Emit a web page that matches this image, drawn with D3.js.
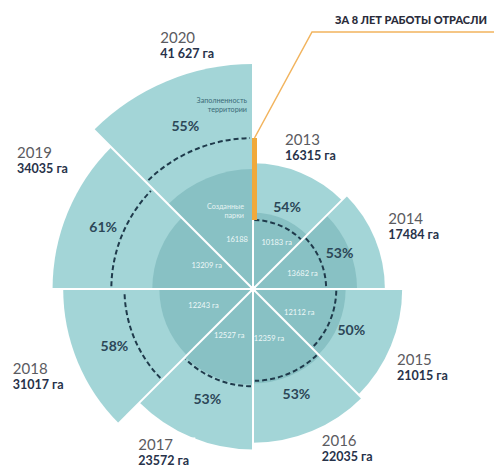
<!DOCTYPE html>
<html>
<head>
<meta charset="utf-8">
<script src="https://cdn.jsdelivr.net/npm/d3@7"></script>
<style>
  body { margin: 0; background: #fff; }
  svg { display: block; font-family: Lato, "Open Sans", sans-serif; }
</style>
</head>
<body>
<div id="chart"></div>
<script>
const years = ["2013", "2014", "2015", "2016", "2017", "2018", "2019", "2020"];
const totalArea = [16315, 17484, 21015, 22035, 23572, 31017, 34035, 41627];
const totalLabels = ["16315 га", "17484 га", "21015 га", "22035 га", "23572 га", "31017 га", "34035 га", "41 627 га"];
const fillPct = [54, 53, 50, 53, 53, 58, 61, 55];
const parksArea = [10183, 13682, 12112, 12359, 12527, 12243, 13209, 16188];
const parksLabels = ["10183 га", "13682 га", "12112 га", "12359 га", "12527 га", "12243 га", "13209 га", "16188"];

// where the year labels sit: angle (deg, clockwise from top) and gap past the outer arc
const labelAngle = [12.8, 65.3, 118.7, 156.7, 214.9, 249.9, 298.5, 339.1];
const labelGap = [19, 17, 15, 20, 40, 66, 68, 35];

const width = 494, height = 468;
const cx = 253, cy = 289;
const step = Math.PI / 4;

const svg = d3.select("#chart")
    .append("svg")
    .attr("width", width)
    .attr("height", height);

const g = svg.append("g")
    .attr("transform", `translate(${cx},${cy})`);

// radius scales (area-like)
const r = d3.scaleRadial().domain([4850, 41627]).range([0, 225]);
const rFill = d3.scaleRadial().domain([5090, 22895]).range([0, 151]);
const rParks = d3.scaleRadial().domain([6100, 16188]).range([0, 120]);

const data = years.map((y, i) => ({
  year: y,
  total: totalArea[i],
  totalLabel: totalLabels[i],
  pct: fillPct[i],
  filled: totalArea[i] * fillPct[i] / 100,
  parks: parksArea[i],
  parksLabel: parksLabels[i],
  a0: i * step,
  a1: (i + 1) * step
}));

const polar = (rad, ang) => [rad * Math.sin(ang), -rad * Math.cos(ang)];

// outer sectors
const outerArc = d3.arc()
    .innerRadius(0)
    .outerRadius(d => r(d.total))
    .startAngle(d => d.a0)
    .endAngle(d => d.a1);

g.selectAll(".outer")
  .data(data)
  .join("path")
    .attr("class", "outer")
    .attr("fill", "#a3d5d7")
    .attr("d", outerArc);

// parks sectors
const parksArc = d3.arc()
    .innerRadius(0)
    .outerRadius(d => rParks(d.parks))
    .startAngle(d => d.a0)
    .endAngle(d => d.a1);

g.selectAll(".parks")
  .data(data)
  .join("path")
    .attr("class", "parks")
    .attr("fill", "#88c1c4")
    .attr("d", parksArc);

// dashed occupancy arcs
g.selectAll(".dash")
  .data(data)
  .join("path")
    .attr("class", "dash")
    .attr("fill", "none")
    .attr("stroke", "#1f3a4b")
    .attr("stroke-width", 2)
    .attr("stroke-dasharray", "5,3")
    .attr("d", d => {
      const p = d3.path();
      const rr = rFill(d.filled);
      const s = polar(rr, d.a0 + 0.02);
      p.moveTo(s[0], s[1]);
      p.arc(0, 0, rr, d.a0 + 0.02 - Math.PI / 2, d.a1 - 0.02 - Math.PI / 2);
      return p.toString();
    });

// white separators
g.selectAll(".sep")
  .data(data)
  .join("line")
    .attr("class", "sep")
    .attr("stroke", "#fff")
    .attr("stroke-width", 2)
    .attr("x1", 0).attr("y1", 0)
    .attr("x2", (d, i) => polar(Math.max(r(d.total), r(data[(i + 7) % 8].total)) + 2, d.a0)[0])
    .attr("y2", (d, i) => polar(Math.max(r(d.total), r(data[(i + 7) % 8].total)) + 2, d.a0)[1]);

g.append("circle").attr("r", 3).attr("fill", "#fff");

// orange bar: from 2013 occupancy to 2020 occupancy
const barTop = -rFill(data[7].filled);
const barBottom = -rFill(data[0].filled);
g.append("rect")
    .attr("x", -1)
    .attr("y", barTop)
    .attr("width", 5)
    .attr("height", barBottom - barTop)
    .attr("fill", "#f0a93a");

// leader line to the title
const elbowY = 32;
svg.append("path")
    .attr("fill", "none")
    .attr("stroke", "#f2b45e")
    .attr("stroke-width", 1.5)
    .attr("d", `M${cx + 1.5},${cy + barTop} L${cx + 59},${elbowY} L${width},${elbowY}`);

svg.append("text")
    .attr("x", 335)
    .attr("y", 24)
    .attr("font-size", 11.5)
    .attr("font-weight", 900)
    .attr("fill", "#2a2c3a")
    .attr("textLength", 152)
    .attr("lengthAdjust", "spacingAndGlyphs")
    .text("ЗА 8 ЛЕТ РАБОТЫ ОТРАСЛИ");

// percent labels
g.selectAll(".pct")
  .data(data)
  .join("text")
    .attr("class", "pct")
    .attr("text-anchor", "middle")
    .attr("dy", "0.36em")
    .attr("font-size", 14)
    .attr("font-weight", 700)
    .attr("fill", "#2c4757")
    .attr("transform", d => {
      const rf = rFill(d.filled), ro = r(d.total);
      const p = polar(rf + 0.35 * (ro - rf), (d.a0 + d.a1) / 2);
      return `translate(${p[0]},${p[1]})`;
    })
    .text(d => d.pct + "%");

// parks labels
g.selectAll(".plab")
  .data(data)
  .join("text")
    .attr("class", "plab")
    .attr("text-anchor", "middle")
    .attr("dy", "0.35em")
    .attr("font-size", 7.5)
    .attr("fill", "#eef8f8")
    .attr("transform", d => {
      const p = polar(52, (d.a0 + d.a1) / 2 + 0.08);
      return `translate(${p[0]},${p[1]})`;
    })
    .text(d => d.parksLabel);

// annotations in the 2020 sector
const ann = g.append("g").attr("text-anchor", "end").attr("font-size", 7.2);
ann.append("text")
    .attr("x", -6).attr("y", -r(data[7].total) + 39)
    .attr("fill", "#3b6b78")
    .text("Заполненность");
ann.append("text")
    .attr("x", -6).attr("y", -r(data[7].total) + 48)
    .attr("fill", "#3b6b78")
    .text("территории");
ann.append("text")
    .attr("x", -9).attr("y", -rParks(data[7].parks) + 40)
    .attr("fill", "#e6f3f3")
    .text("Созданные");
ann.append("text")
    .attr("x", -9).attr("y", -rParks(data[7].parks) + 49)
    .attr("fill", "#e6f3f3")
    .text("парки");

// year labels
const lab = g.selectAll(".ylab")
  .data(data)
  .join("g")
    .attr("class", "ylab")
    .attr("transform", (d, i) => {
      const p = polar(r(d.total) + labelGap[i], labelAngle[i] * Math.PI / 180);
      return `translate(${p[0]},${p[1]})`;
    });

lab.append("rect")
    .attr("x", -3).attr("y", -16)
    .attr("width", d => d.totalLabel.length * 7 + 4)
    .attr("height", 32)
    .attr("fill", "#fff");

lab.append("text")
    .attr("y", -3)
    .attr("font-size", 15)
    .attr("fill", "#5b5b5f")
    .text(d => d.year);

lab.append("text")
    .attr("y", 12)
    .attr("font-size", 12.5)
    .attr("font-weight", 700)
    .attr("fill", "#27324a")
    .text(d => d.totalLabel);
</script>
</body>
</html>
